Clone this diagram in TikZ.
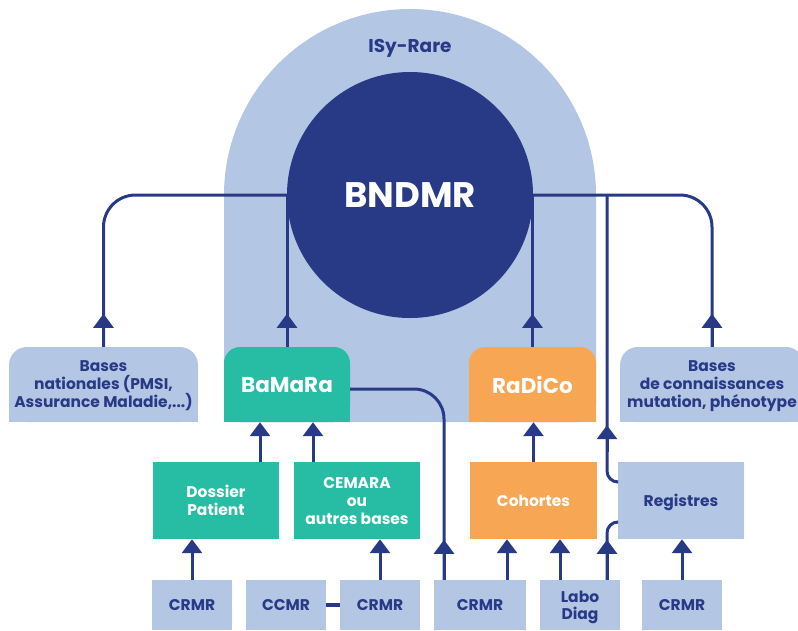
\documentclass[tikz,border=0pt]{standalone}
\usepackage{fontspec}
\setmainfont{Poppins}
\usetikzlibrary{arrows.meta,calc}
\definecolor{navy}{HTML}{283A86}
\definecolor{lblue}{HTML}{B3C6E4}
\definecolor{cteal}{HTML}{26BDA4}
\definecolor{corange}{HTML}{F7A654}
\pgfdeclarelayer{back}\pgfdeclarelayer{mid}\pgfsetlayers{back,mid,main}
\tikzset{
  base/.style={inner sep=0pt, font=\bfseries\fontsize{15.5}{18}\selectfont, align=center, text depth=0pt},
  lb/.style={base, fill=lblue, text=navy},
  tl/.style={base, fill=cteal, text=white},
  og/.style={base, fill=corange, text=white},
  conn/.style={draw=navy, line width=3pt},
  arr/.style={draw=navy, line width=3pt, -{Triangle[width=20pt,length=14pt]}},
  topbox/.style={minimum height=75pt, rounded corners=18pt},
  bigname/.style={font=\bfseries\fontsize{21.5}{21.5}\selectfont, rounded corners=16pt},
  midbox/.style={minimum height=77pt},
  lowbox/.style={minimum height=50pt},
}
\begin{document}
\begin{tikzpicture}[x=1pt,y=-1pt]
\useasboundingbox (0,0) rectangle (798,630);
\begin{pgfonlayer}{back}
  \fill[lblue] (224,422) -- (224,195) arc[start angle=180,end angle=0,radius=186pt] -- (596,422) -- cycle;
\end{pgfonlayer}
% centre
\node[circle, fill=navy, minimum size=246pt, inner sep=0pt, text=white,
      font=\bfseries\fontsize{35.5}{35.5}\selectfont] (bndmr) at (410,195) {BNDMR};
\node[base, text=navy, font=\bfseries\fontsize{18.5}{18.5}\selectfont] (isy) at (410,46) {ISy-Rare};
% top row
\node[lb, topbox, minimum width=189pt] (bnl) at (103.5,384.5) {Bases\\nationales (PMSI,\\Assurance Maladie,...)};
\node[tl, topbox, bigname, minimum width=126pt] (bam) at (287,384.5) {BaMaRa};
\node[og, topbox, bigname, minimum width=127pt] (rad) at (532.5,384.5) {RaDiCo};
\node[lb, topbox, minimum width=184pt] (bnr) at (712,384.5) {Bases\\de connaissances\\mutation, phénotype};
\begin{pgfonlayer}{mid}
  \foreach \n/\c in {bnl/lblue,bam/cteal,rad/corange,bnr/lblue}
    \fill[\c] (\n.west) rectangle (\n.south east);
\end{pgfonlayer}
% middle row
\node[tl, midbox, minimum width=126pt] (dos) at (216,500.5) {Dossier\\Patient};
\node[tl, midbox, minimum width=126pt] (cem) at (357,500.5) {CEMARA\\ou\\autres bases};
\node[og, midbox, minimum width=127pt] (coh) at (533.5,500.5) {Cohortes};
\node[lb, midbox, minimum width=126pt] (reg) at (681,500.5) {Registres};
% bottom row
\node[lb, lowbox, minimum width=80pt] (c1) at (192,605) {CRMR};
\node[lb, lowbox, minimum width=80pt] (ccmr) at (286,605) {CCMR};
\node[lb, lowbox, minimum width=80pt] (c2) at (380,605) {CRMR};
\node[lb, lowbox, minimum width=92pt] (c3) at (480,605) {CRMR};
\node[lb, lowbox, minimum width=80pt, font=\bfseries\fontsize{15.5}{17}\selectfont] (labo) at (580,605) {Labo\\Diag};
\node[lb, lowbox, minimum width=80pt] (c4) at (682,605) {CRMR};
% connectors to BNDMR
\draw[conn, rounded corners=32pt] (bnl.north) |- (bndmr.west);
\draw[arr] (bnl.north) -- ++(0,-33);
\draw[conn] (bam.north) -- (bam.north |- bndmr.west);
\draw[arr] (bam.north) -- ++(0,-33);
\draw[conn] (rad.north) -- (rad.north |- bndmr.east);
\draw[arr] (rad.north) -- ++(0,-33);
\draw[conn, rounded corners=32pt] (bnr.north) |- (bndmr.east);
\draw[arr] (bnr.north) -- ++(0,-33);
\coordinate (jR) at (607,195);
\draw[conn, rounded corners=11pt] ([yshift=18.5pt]reg.west) -| (jR);
\draw[arr] ($(jR |- bam.south)+(0,30)$) -- ($(jR |- bam.south)+(0,3)$);
% middle to top
\draw[arr] ([xshift=44pt]dos.north) -- ([xshift=44pt]dos.north |- bam.south);
\draw[arr] ([xshift=-44pt]cem.north) -- ([xshift=-44pt]cem.north |- bam.south);
\draw[arr] (coh.north) -- (coh.north |- rad.south);
% bottom to middle
\draw[arr] (c1.north) -- (c1.north |- dos.south);
\draw[arr] (c2.north) -- (c2.north |- cem.south);
\draw[conn, line width=4.5pt] (ccmr.east) -- (c2.west);
\draw[conn, rounded corners=30pt] ([xshift=-36pt]c3.north) |- ([yshift=-4.5pt]bam.east);
\draw[arr] ([xshift=-36pt]c3.north) -- ++(0,-40);
\draw[arr] ([xshift=27pt]c3.north) -- ([xshift=27pt]c3.north |- coh.south);
\draw[arr] ([xshift=-20pt]labo.north) -- ([xshift=-20pt]labo.north |- coh.south);
\draw[conn, rounded corners=11pt] ([xshift=27pt]labo.north) |- ([yshift=-21.5pt]reg.west);
\draw[arr] ([xshift=27pt]labo.north) -- ++(0,-40);
\draw[arr] (c4.north) -- (c4.north |- reg.south);
\end{tikzpicture}
\end{document}
